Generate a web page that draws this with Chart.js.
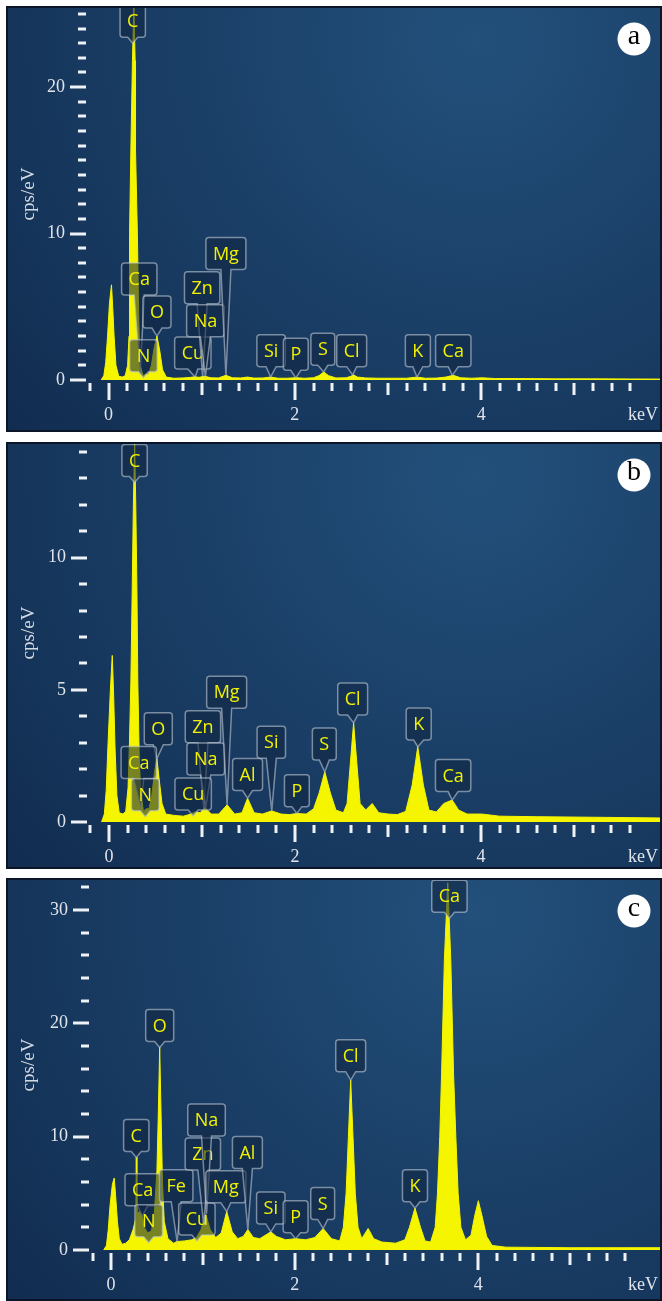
<!DOCTYPE html>
<html><head><meta charset="utf-8">
<script src="https://cdn.jsdelivr.net/npm/chart.js@4.4.1/dist/chart.umd.min.js"></script>
<style>
html,body{margin:0;padding:0;background:#fff;}
body{width:662px;height:1301px;position:relative;overflow:hidden;}
.panel{position:absolute;left:6px;}
canvas{display:block;}
</style></head><body>
<div class="panel" style="top:6px;width:656px;height:426px"><canvas id="ca" width="656" height="426"></canvas></div>
<div class="panel" style="top:442px;width:656px;height:427px"><canvas id="cb" width="656" height="427"></canvas></div>
<div class="panel" style="top:878px;width:656px;height:423px"><canvas id="cc" width="656" height="423"></canvas></div>
<script>
// ---------- data (energy in keV, intensity in cps/eV) ----------
const energyA = [-0.08,-0.05,-0.03,-0.01,0.01,0.032,0.045,0.06,0.08,0.11,
  0.15,0.18,0.205,0.22,0.226,0.24,0.257,0.272,0.286,0.29,
  0.31,0.325,0.34,0.37,0.40,0.43,0.46,0.49,0.52,0.55,
  0.58,0.62,0.70,0.80,0.88,0.93,0.97,1.03,1.10,1.18,
  1.26,1.33,1.42,1.49,1.56,1.66,1.74,1.82,1.92,2.01,
  2.10,2.20,2.26,2.31,2.36,2.44,2.55,2.60,2.63,2.67,
  2.76,2.90,3.05,3.20,3.31,3.40,3.52,3.62,3.70,3.78,
  3.90,4.01,4.15,4.40,4.80,5.20,5.60,6.00];
const cpsA = [0,0.3,1.2,3.0,5.2,6.5,5.0,3.0,1.0,0.25,
  0.2,0.3,1.0,3.0,10,15.7,21.8,25.5,21.8,15.7,
  10,4,1.0,0.3,0.4,0.4,1.0,2.2,3.0,2.0,
  0.7,0.2,0.12,0.14,0.18,0.22,0.18,0.26,0.15,0.14,
  0.32,0.15,0.14,0.2,0.13,0.14,0.2,0.12,0.12,0.16,
  0.12,0.15,0.3,0.55,0.3,0.14,0.15,0.25,0.35,0.2,
  0.14,0.12,0.12,0.12,0.2,0.12,0.13,0.2,0.32,0.15,
  0.12,0.15,0.1,0.1,0.08,0.08,0.07,0.06];

const energyB = [-0.08,-0.05,-0.03,-0.01,0.015,0.035,0.05,0.065,0.085,0.11,
  0.15,0.18,0.205,0.22,0.235,0.25,0.262,0.276,0.288,0.30,
  0.31,0.325,0.34,0.37,0.40,0.43,0.46,0.49,0.515,0.54,
  0.57,0.61,0.70,0.80,0.88,0.93,0.98,1.03,1.10,1.18,
  1.27,1.35,1.43,1.49,1.56,1.65,1.75,1.85,1.94,2.02,
  2.12,2.20,2.26,2.32,2.38,2.44,2.52,2.56,2.59,2.63,
  2.67,2.70,2.76,2.83,2.90,3.00,3.10,3.19,3.26,3.32,
  3.38,3.44,3.52,3.60,3.69,3.76,3.85,4.01,4.20,4.60,
  5.20,6.00];
const cpsB = [0,0.3,1.2,3.0,5.0,6.3,4.8,2.8,1.0,0.35,
  0.3,0.4,1.3,3.0,5.3,8.9,12,14.3,12,8.9,
  5.3,2.5,1.2,0.4,0.5,0.5,1.0,1.9,2.4,1.6,
  0.7,0.3,0.25,0.22,0.3,0.38,0.35,0.55,0.3,0.3,
  0.65,0.3,0.35,0.9,0.35,0.3,0.42,0.3,0.28,0.32,
  0.3,0.5,1.1,1.9,1.1,0.45,0.35,0.7,2.0,3.75,
  2.0,0.7,0.45,0.7,0.35,0.3,0.28,0.4,1.4,2.85,
  1.4,0.45,0.38,0.7,0.83,0.45,0.3,0.3,0.22,0.2,
  0.18,0.15];

const energyC = [-0.08,-0.05,-0.03,-0.01,0.015,0.035,0.05,0.07,0.09,0.12,
  0.16,0.20,0.24,0.27,0.275,0.282,0.31,0.34,0.37,0.40,
  0.44,0.47,0.50,0.515,0.53,0.545,0.56,0.58,0.62,0.68,
  0.72,0.80,0.88,0.93,0.98,1.03,1.08,1.14,1.20,1.26,
  1.32,1.38,1.44,1.49,1.55,1.62,1.68,1.74,1.80,1.90,
  2.01,2.12,2.22,2.31,2.40,2.49,2.53,2.56,2.585,2.61,
  2.635,2.66,2.69,2.73,2.80,2.86,2.95,3.10,3.20,3.25,
  3.31,3.37,3.42,3.48,3.53,3.555,3.58,3.60,3.63,3.667,
  3.70,3.73,3.755,3.78,3.81,3.86,3.92,3.96,4.00,4.04,
  4.09,4.15,4.30,5.00,6.00];
const cpsC = [0,0.4,1.8,4.0,5.8,6.35,4.8,2.5,1.0,0.5,
  0.6,0.9,1.8,2.8,8.2,3.2,3.4,3.0,1.9,1.5,
  1.7,3.0,7.0,12,17.9,12,6.0,2.5,1.0,0.6,
  0.75,0.8,0.9,1.1,1.8,3.2,1.8,1.1,1.5,3.4,
  1.6,1.0,1.2,1.8,1.1,1.0,1.3,1.6,1.2,0.9,
  1.0,0.9,1.1,1.9,1.0,0.8,2.0,5.0,10,15.0,
  10,5.0,2.0,1.0,1.9,1.0,0.7,0.6,0.9,2.0,
  3.7,2.0,0.8,0.7,2.0,5.0,10,15.6,25.6,32.4,
  25.6,15.6,10,5.0,2.0,0.9,1.3,3.0,4.35,3.0,
  1.2,0.4,0.25,0.2,0.2];

// tick labels
const xTickLabels = [0, 2, 4];
const yTickLabelsA = [0, 10, 20];
const yTickLabelsB = [0, 5, 10];
const yTickLabelsC = [0, 10, 20, 30];

// element tags: [element, box centre keV, box bottom cps, pointer keV, pointer cps]
const tagsA = [['C',0.26,23.4,0.27,25.5],['Ca',0.33,5.8,0.34,0.4],['O',0.52,3.55,0.52,3.0],
  ['N',0.375,0.57,0.39,0.3],['Cu',0.905,0.75,0.93,0.2],['Zn',1.005,5.2,1.01,0.25],
  ['Na',1.04,2.95,1.04,0.25],['Mg',1.26,7.55,1.26,0.3],['Si',1.745,0.91,1.74,0.2],
  ['P',2.01,0.66,2.01,0.15],['S',2.30,1.0,2.31,0.55],['Cl',2.61,0.91,2.62,0.35],
  ['K',3.32,0.91,3.31,0.2],['Ca',3.70,0.91,3.69,0.32]];
const tagsB = [['C',0.275,13.07,0.276,14.3],['O',0.53,2.92,0.515,2.4],['Ca',0.32,1.65,0.34,0.6],
  ['N',0.39,0.43,0.40,0.5],['Zn',1.01,3.0,1.02,0.5],['Na',1.04,1.78,1.04,0.55],
  ['Cu',0.905,0.45,0.93,0.38],['Mg',1.265,4.3,1.27,0.65],['Al',1.49,1.19,1.49,0.9],
  ['Si',1.745,2.41,1.75,0.42],['P',2.02,0.58,2.02,0.32],['S',2.315,2.35,2.32,1.9],
  ['Cl',2.62,4.05,2.63,3.75],['K',3.33,3.1,3.32,2.85],['Ca',3.70,1.15,3.69,0.83]];
const tagsC = [['C',0.275,8.7,0.275,8.2],['Ca',0.345,3.9,0.34,3.0],['N',0.41,1.18,0.40,1.5],
  ['O',0.53,18.4,0.53,17.9],['Fe',0.71,4.26,0.72,0.75],['Cu',0.935,1.32,0.93,1.1],
  ['Zn',1.0,7.06,1.01,2.2],['Na',1.04,10.06,1.04,3.2],['Mg',1.25,4.17,1.26,3.4],
  ['Al',1.485,7.2,1.49,1.8],['Si',1.74,2.3,1.74,1.6],['P',2.01,1.53,2.01,1.0],
  ['S',2.305,2.7,2.31,1.9],['Cl',2.61,15.74,2.61,15.0],['K',3.31,4.26,3.31,3.7],
  ['Ca',3.685,29.8,3.667,32.4]];

// ---------- drawing ----------
const SERIF = '"Liberation Serif", "DejaVu Serif", serif';
const TAGFONT = '18px "Open Sans", "Noto Sans", sans-serif';

function tagPath(ctx, l, t, w, h, r, cx, tipX, tipY) {
  const b = t + h, rr = l + w;
  const a1 = Math.min(cx + 5, rr - r), a0 = Math.max(cx - 5, l + r);
  ctx.beginPath();
  ctx.moveTo(l + r, t);
  ctx.lineTo(rr - r, t);
  ctx.quadraticCurveTo(rr, t, rr, t + r);
  ctx.lineTo(rr, b - r);
  ctx.quadraticCurveTo(rr, b, rr - r, b);
  ctx.lineTo(a1, b);
  ctx.lineTo(tipX, tipY);
  ctx.lineTo(a0, b);
  ctx.lineTo(l + r, b);
  ctx.quadraticCurveTo(l, b, l, b - r);
  ctx.lineTo(l, t + r);
  ctx.quadraticCurveTo(l, t, l + r, t);
  ctx.closePath();
}

const decor = {
  id: 'decor',
  beforeDraw(chart) {
    const {ctx, width, height} = chart;
    const g = ctx.createRadialGradient(width * 0.72, height * 0.08, 0, width * 0.72, height * 0.08, width * 1.05);
    g.addColorStop(0, '#22507b');
    g.addColorStop(0.55, '#183a61');
    g.addColorStop(1, '#0f284a');
    ctx.save();
    ctx.fillStyle = g;
    ctx.fillRect(0, 0, width, height);
    ctx.restore();
  },
  afterDraw(chart, args, o) {
    const {ctx, width, height, chartArea: ca} = chart;
    const xs = chart.scales.x, ys = chart.scales.y;
    ctx.save();
    // axis tick marks
    ctx.fillStyle = '#eef1f5';
    for (let i = -1; i <= 28; i++) {
      const px = Math.round(xs.getPixelForValue(i * 0.2));
      const len = i % 10 === 0 ? 17 : (i % 5 === 0 ? 12 : 8);
      ctx.fillRect(px - 1.5, ca.bottom + 3, 3, len);
    }
    for (let k = 0; k * o.yMinor <= o.yTop + 1e-9; k++) {
      const v = k * o.yMinor;
      const py = Math.round(ys.getPixelForValue(v));
      const major = Math.abs(v / o.yMajor - Math.round(v / o.yMajor)) < 1e-6;
      const len = major ? 16 : 8;
      ctx.fillRect(ca.left - 2 - len, py - 1.5, len, 3);
    }
    // keV label
    ctx.fillStyle = '#dfe3ea';
    ctx.font = '18px ' + SERIF;
    ctx.textAlign = 'center';
    ctx.textBaseline = 'middle';
    ctx.fillText('keV', width - 19, ca.bottom + 35);
    // element tags
    ctx.font = TAGFONT;
    ctx.lineWidth = 1.5;
    for (const t of o.tags) {
      const cx = xs.getPixelForValue(t[1]);
      const by = ys.getPixelForValue(t[2]);
      let tx = xs.getPixelForValue(t[3]);
      let ty = ys.getPixelForValue(t[4]);
      if (ty < by + 6) { tx = cx; ty = by + 6; }
      const w = ctx.measureText(t[0]).width + 14, h = 32;
      tagPath(ctx, cx - w / 2, by - h, w, h, 3, cx, tx, ty);
      ctx.fillStyle = 'rgba(16,36,64,0.55)';
      ctx.fill();
      ctx.strokeStyle = 'rgba(190,200,212,0.6)';
      ctx.stroke();
      ctx.fillStyle = '#f2f200';
      ctx.textAlign = 'center';
      ctx.textBaseline = 'middle';
      ctx.fillText(t[0], cx, by - h / 2 + 1);
    }
    // panel letter
    ctx.beginPath();
    ctx.arc(width - 28, 33, 16.5, 0, Math.PI * 2);
    ctx.fillStyle = '#ffffff';
    ctx.fill();
    ctx.fillStyle = '#000';
    ctx.font = '28px ' + SERIF;
    ctx.textAlign = 'center';
    ctx.textBaseline = 'middle';
    ctx.fillText(o.letter, width - 28, 31);
    // frame
    ctx.strokeStyle = '#0a1628';
    ctx.lineWidth = 2;
    ctx.strokeRect(1, 1, width - 2, height - 2);
    ctx.restore();
  }
};

function makePanel(id, energy, cps, cfg) {
  const pts = energy.map((e, i) => ({x: e, y: cps[i]}));
  return new Chart(document.getElementById(id), {
    type: 'line',
    data: {datasets: [{
      data: pts,
      borderColor: '#f5f500',
      backgroundColor: '#f5f500',
      borderWidth: 1,
      fill: 'origin',
      pointRadius: 0,
      tension: 0
    }]},
    options: {
      responsive: false,
      devicePixelRatio: 1,
      animation: false,
      events: [],
      layout: {padding: {top: cfg.padTop, right: 0, left: 0, bottom: 0}},
      plugins: {
        legend: {display: false},
        tooltip: {enabled: false},
        decor: {tags: cfg.tags, letter: cfg.letter, yMinor: cfg.yMinor, yMajor: cfg.yMajor, yTop: cfg.yTop}
      },
      scales: {
        x: {
          type: 'linear',
          min: cfg.xMin, max: cfg.xMax,
          afterFit: s => { s.height = cfg.axisH; s.paddingLeft = 0; s.paddingRight = 0; },
          afterBuildTicks: s => { s.ticks = xTickLabels.map(v => ({value: v})); },
          grid: {display: false, drawTicks: false},
          border: {display: false},
          ticks: {autoSkip: false, maxRotation: 0, padding: 24, color: '#dfe3ea',
                  font: {family: SERIF, size: 18}}
        },
        y: {
          min: 0, max: cfg.yMax,
          afterFit: s => { s.width = cfg.axisW; s.paddingTop = 0; s.paddingBottom = 0; },
          afterBuildTicks: s => { s.ticks = cfg.yTicks.map(v => ({value: v})); },
          grid: {display: false, drawTicks: false},
          border: {display: false},
          ticks: {autoSkip: false, padding: 23, color: '#dfe3ea',
                  font: {family: SERIF, size: 18}},
          title: {display: true, text: 'cps/eV', color: '#d4dae3',
                  font: {family: SERIF, size: 19}, padding: {top: 12, bottom: 0}}
        }
      }
    },
    plugins: [decor]
  });
}

makePanel('ca', energyA, cpsA, {
  padTop: 2, axisH: 52, axisW: 82, xMin: -0.22, xMax: 5.94, yMax: 25.4,
  yTicks: yTickLabelsA, yMinor: 1, yMajor: 10, yTop: 25, tags: tagsA, letter: 'a'
});
makePanel('cb', energyB, cpsB, {
  padTop: 2, axisH: 47, axisW: 83, xMin: -0.215, xMax: 5.946, yMax: 14.3,
  yTicks: yTickLabelsB, yMinor: 1, yMajor: 5, yTop: 14, tags: tagsB, letter: 'b'
});
makePanel('cc', energyC, cpsC, {
  padTop: 2, axisH: 51, axisW: 85, xMin: -0.218, xMax: 6.0, yMax: 32.65,
  yTicks: yTickLabelsC, yMinor: 2, yMajor: 10, yTop: 32, tags: tagsC, letter: 'c'
});
</script>
</body></html>
